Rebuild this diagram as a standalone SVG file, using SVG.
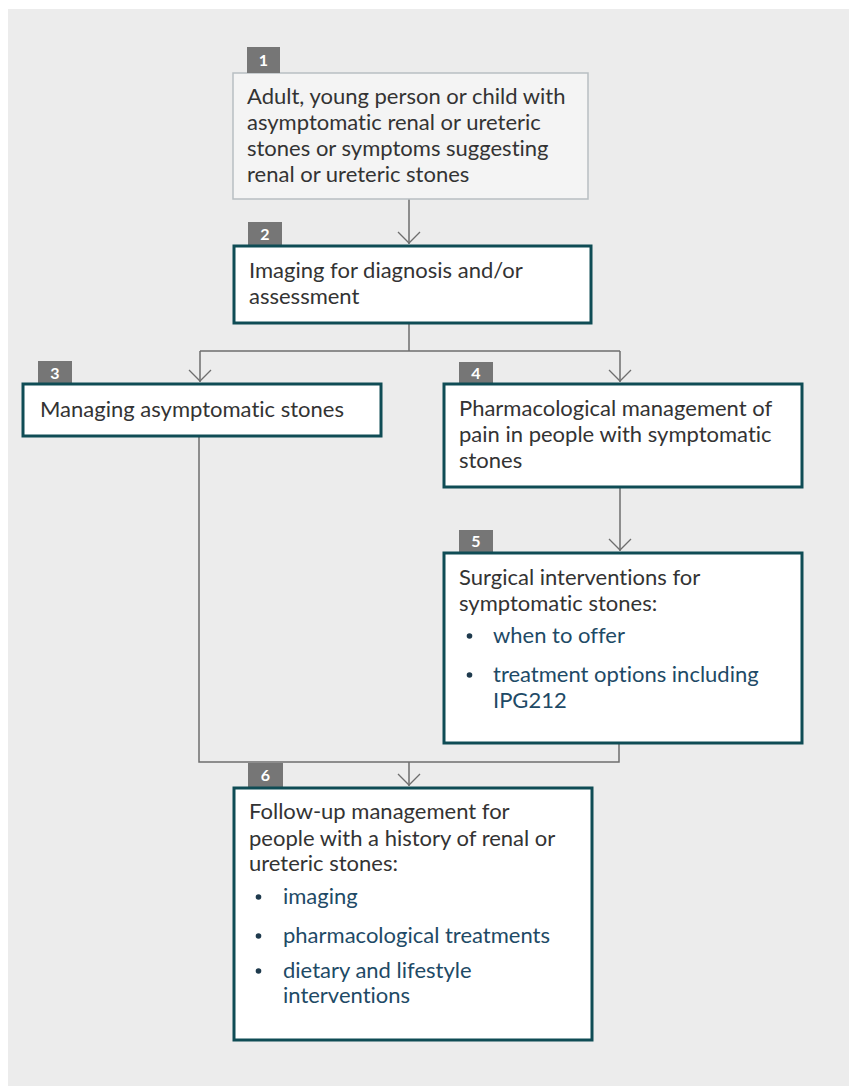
<svg xmlns="http://www.w3.org/2000/svg" width="849" height="1086" viewBox="0 0 849 1086">
<defs>
<style>
.bg{fill:#ececec}
.box{fill:#ffffff;stroke:#0f4c55;stroke-width:3}
.box1{fill:#f4f4f4;stroke:#b8bec2;stroke-width:1.5}
.badge{fill:#767676}
.num{font-family:Lato,"Liberation Sans",sans-serif;font-size:16px;font-weight:bold;fill:#ffffff;text-anchor:middle}
.t{font-family:Lato,"Liberation Sans",sans-serif;font-size:22px;fill:#333333;font-variant-ligatures:none}
.l{font-family:Lato,"Liberation Sans",sans-serif;font-size:22px;fill:#1e4a66;font-variant-ligatures:none}
.dot{fill:#1e3a4d}
.conn{fill:none;stroke:#6e6e6e;stroke-width:1.5}
</style>
<marker id="arr" viewBox="0 0 24 14" refX="12" refY="13" markerWidth="24" markerHeight="14" markerUnits="userSpaceOnUse" orient="0">
<path d="M1,1 L12,12 L23,1" fill="none" stroke="#6e6e6e" stroke-width="1.3"/>
</marker>
</defs>
<rect x="8" y="9" width="841" height="1077" class="bg"/>

<g id="connectors">
<path class="conn" d="M409,199 V244" marker-end="url(#arr)"/>
<path class="conn" d="M409,324 V351"/>
<path class="conn" d="M200,351 H620"/>
<path class="conn" d="M200,351 V382" marker-end="url(#arr)"/>
<path class="conn" d="M620,351 V382" marker-end="url(#arr)"/>
<path class="conn" d="M620,488 V551" marker-end="url(#arr)"/>
<path class="conn" d="M199,437 V762 H619 V744"/>
<path class="conn" d="M409,762 V786" marker-end="url(#arr)"/>
</g>

<g id="node1">
<rect class="box1" x="233" y="73" width="355" height="126"/>
<rect class="badge" x="247" y="47" width="33" height="26"/>
<text class="num" x="263.5" y="66">1</text>
<text class="t" x="247" y="104">Adult, young person or child with</text>
<text class="t" x="247" y="130">asymptomatic renal or ureteric</text>
<text class="t" x="247" y="156">stones or symptoms suggesting</text>
<text class="t" x="247" y="182">renal or ureteric stones</text>
</g>

<g id="node2">
<rect class="badge" x="248" y="222" width="34" height="23"/>
<text class="num" x="265" y="240">2</text>
<rect class="box" x="234" y="246" width="357" height="77"/>
<text class="t" x="249" y="278">Imaging for diagnosis and/or</text>
<text class="t" x="249" y="304">assessment</text>
</g>

<g id="node3">
<rect class="badge" x="38" y="361" width="34" height="22"/>
<text class="num" x="55" y="379">3</text>
<rect class="box" x="23" y="384" width="358" height="52"/>
<text class="t" x="40" y="417">Managing asymptomatic stones</text>
</g>

<g id="node4">
<rect class="badge" x="459" y="362" width="34" height="21"/>
<text class="num" x="476" y="379">4</text>
<rect class="box" x="444" y="384" width="358" height="103"/>
<text class="t" x="459" y="416">Pharmacological management of</text>
<text class="t" x="459" y="442">pain in people with symptomatic</text>
<text class="t" x="459" y="468">stones</text>
</g>

<g id="node5">
<rect class="badge" x="459" y="530" width="34" height="22"/>
<text class="num" x="476" y="547">5</text>
<rect class="box" x="444" y="553" width="358" height="190"/>
<text class="t" x="459" y="585">Surgical interventions for</text>
<text class="t" x="459" y="611">symptomatic stones:</text>
<circle class="dot" cx="469.5" cy="636" r="2.8"/>
<text class="l" x="493" y="643">when to offer</text>
<circle class="dot" cx="469.5" cy="675" r="2.8"/>
<text class="l" x="493" y="682">treatment options including</text>
<text class="l" x="493" y="708">IPG212</text>
</g>

<g id="node6">
<rect class="badge" x="248" y="763" width="35" height="24"/>
<text class="num" x="265.5" y="781">6</text>
<rect class="box" x="234" y="788" width="358" height="252"/>
<text class="t" x="249" y="819">Follow-up management for</text>
<text class="t" x="249" y="846">people with a history of renal or</text>
<text class="t" x="249" y="871">ureteric stones:</text>
<circle class="dot" cx="258.5" cy="897" r="2.8"/>
<text class="l" x="283" y="904">imaging</text>
<circle class="dot" cx="258.5" cy="936" r="2.8"/>
<text class="l" x="283" y="943">pharmacological treatments</text>
<circle class="dot" cx="258.5" cy="971" r="2.8"/>
<text class="l" x="283" y="978">dietary and lifestyle</text>
<text class="l" x="283" y="1003">interventions</text>
</g>
</svg>
